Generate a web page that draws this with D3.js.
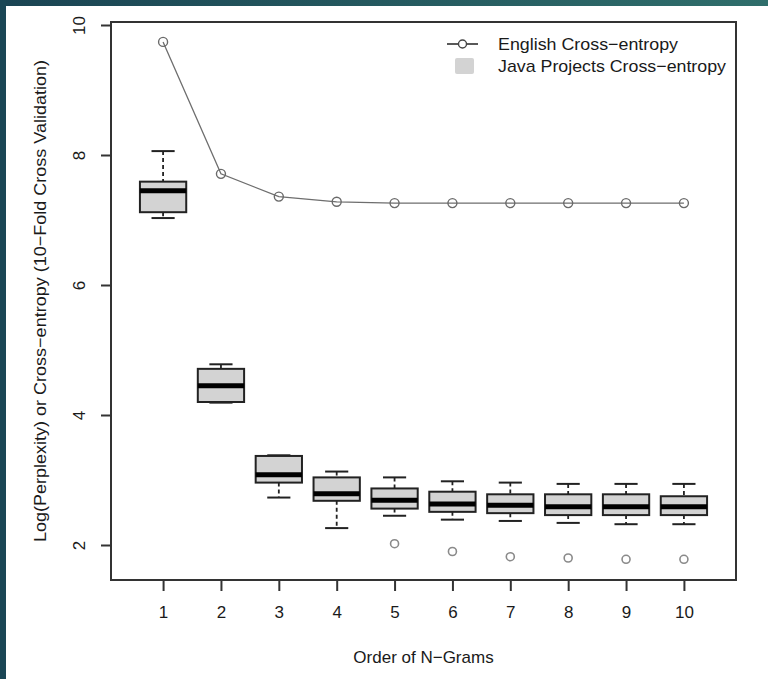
<!DOCTYPE html>
<html>
<head>
<meta charset="utf-8">
<script src="https://cdn.jsdelivr.net/npm/d3@7.9.0/dist/d3.min.js"></script>
<style>
  html, body { margin: 0; padding: 0; }
  body { width: 768px; height: 679px; background: #1c4b58; overflow: hidden; }
  svg { display: block; }
  text { font-family: "Liberation Sans", Arial, sans-serif; fill: #1a1a1a; }
</style>
</head>
<body>
<svg id="chart" width="768" height="679"></svg>
<script>
// Order of the n-gram model (x categories)
const orders = [1, 2, 3, 4, 5, 6, 7, 8, 9, 10];

// English cross-entropy (line with open circles)
const englishCE = [9.74, 7.71, 7.36, 7.28, 7.26, 7.26, 7.26, 7.26, 7.26, 7.26];

// Java projects cross-entropy, boxplot stats per order
const whiskerHigh = [8.06, 4.78, 3.38, 3.13, 3.04, 2.98, 2.96, 2.94, 2.94, 2.94];
const q3          = [7.59, 4.71, 3.37, 3.04, 2.87, 2.82, 2.78, 2.78, 2.78, 2.75];
const medians     = [7.45, 4.45, 3.08, 2.79, 2.69, 2.63, 2.61, 2.59, 2.59, 2.59];
const q1          = [7.12, 4.20, 2.96, 2.68, 2.56, 2.51, 2.49, 2.46, 2.46, 2.46];
const whiskerLow  = [7.03, 4.19, 2.73, 2.26, 2.45, 2.39, 2.37, 2.34, 2.32, 2.32];
const outliers    = [null, null, null, null, 2.02, 1.90, 1.82, 1.80, 1.78, 1.78];

const yTicks = [2, 4, 6, 8, 10];
const legendLabels = ['English Cross\u2212entropy', 'Java Projects Cross\u2212entropy'];
const xTitle = 'Order of N\u2212Grams';
const yTitle = 'Log(Perplexity) or Cross\u2212entropy (10\u2212Fold Cross Validation)';

const boxes = orders.map((o, i) => ({
  order: o, lo: whiskerLow[i], q1: q1[i], med: medians[i], q3: q3[i], hi: whiskerHigh[i], out: outliers[i]
}));

const svg = d3.select('#chart');

// dark strip along the top goes a bit greener to the right
const grad = svg.append('defs').append('linearGradient')
  .attr('id', 'strip').attr('x1', 0).attr('x2', 1).attr('y1', 0).attr('y2', 0);
grad.append('stop').attr('offset', 0).attr('stop-color', '#1a4453');
grad.append('stop').attr('offset', 1).attr('stop-color', '#2f6e6b');
svg.append('rect').attr('width', 768).attr('height', 679).attr('fill', 'url(#strip)');
svg.append('rect').attr('width', 6).attr('height', 679).attr('fill', '#1a4655');

// white page
svg.append('rect')
  .attr('x', 6).attr('y', 6)
  .attr('width', 768).attr('height', 679)
  .attr('fill', '#fff');

const plot = {left: 111, right: 736, top: 22, bottom: 580};

const x = d3.scaleLinear()
  .domain([0.1, 10.9])
  .range([plot.left, plot.right]);
const y = d3.scaleLinear()
  .domain([2 - 35 / 65, 10 + 3 / 65])
  .range([plot.bottom, plot.top]);

const boxW = x(0.8) - x(0);
const capW = x(0.4) - x(0);

// boxes
const g = svg.append('g');
const bx = g.selectAll('g.box').data(boxes).join('g').attr('class', 'box');

// dashed whiskers
bx.append('line')
  .attr('x1', d => x(d.order)).attr('x2', d => x(d.order))
  .attr('y1', d => y(d.hi)).attr('y2', d => y(d.q3))
  .attr('stroke', '#222').attr('stroke-width', 1.8).attr('stroke-dasharray', '4,3');
bx.append('line')
  .attr('x1', d => x(d.order)).attr('x2', d => x(d.order))
  .attr('y1', d => y(d.q1)).attr('y2', d => y(d.lo))
  .attr('stroke', '#222').attr('stroke-width', 1.8).attr('stroke-dasharray', '4,3');

// staples
bx.append('line')
  .attr('x1', d => x(d.order) - capW / 2).attr('x2', d => x(d.order) + capW / 2)
  .attr('y1', d => y(d.hi)).attr('y2', d => y(d.hi))
  .attr('stroke', '#222').attr('stroke-width', 2);
bx.append('line')
  .attr('x1', d => x(d.order) - capW / 2).attr('x2', d => x(d.order) + capW / 2)
  .attr('y1', d => y(d.lo)).attr('y2', d => y(d.lo))
  .attr('stroke', '#222').attr('stroke-width', 2);

bx.append('rect')
  .attr('x', d => x(d.order) - boxW / 2)
  .attr('y', d => y(d.q3))
  .attr('width', boxW)
  .attr('height', d => y(d.q1) - y(d.q3))
  .attr('fill', '#d3d3d3')
  .attr('stroke', '#222').attr('stroke-width', 2);

bx.append('line')
  .attr('x1', d => x(d.order) - boxW / 2).attr('x2', d => x(d.order) + boxW / 2)
  .attr('y1', d => y(d.med)).attr('y2', d => y(d.med))
  .attr('stroke', '#000').attr('stroke-width', 5);

// outliers
g.selectAll('circle.out').data(boxes.filter(d => d.out != null)).join('circle')
  .attr('class', 'out')
  .attr('cx', d => x(d.order)).attr('cy', d => y(d.out))
  .attr('r', 4)
  .attr('fill', 'none').attr('stroke', '#8a8a8a').attr('stroke-width', 1.6);

// English line
const line = d3.line()
  .x((d, i) => x(orders[i]))
  .y(d => y(d));
svg.append('path')
  .datum(englishCE)
  .attr('d', line)
  .attr('fill', 'none').attr('stroke', '#6e6e6e').attr('stroke-width', 1.3);
svg.selectAll('circle.eng').data(englishCE).join('circle')
  .attr('class', 'eng')
  .attr('cx', (d, i) => x(orders[i])).attr('cy', d => y(d))
  .attr('r', 4.5)
  .attr('fill', 'none').attr('stroke', '#6a6a6a').attr('stroke-width', 1.4);

// frame
svg.append('rect')
  .attr('x', plot.left).attr('y', plot.top)
  .attr('width', plot.right - plot.left).attr('height', plot.bottom - plot.top)
  .attr('fill', 'none').attr('stroke', '#333').attr('stroke-width', 2);

// axes
const xAxis = svg.append('g')
  .attr('transform', `translate(0,${plot.bottom})`)
  .call(d3.axisBottom(x).tickValues(orders).tickSize(11).tickPadding(15).tickFormat(d3.format('d')));
xAxis.select('.domain').remove();
xAxis.selectAll('.tick line').attr('stroke', '#333').attr('stroke-width', 2);
xAxis.selectAll('.tick text').attr('font-size', 17).attr('fill', '#1a1a1a')
  .attr('font-family', '"Liberation Sans", Arial, sans-serif');

const yAxis = svg.append('g')
  .attr('transform', `translate(${plot.left},0)`)
  .call(d3.axisLeft(y).tickValues(yTicks).tickSize(10).tickFormat(d3.format('d')));
yAxis.select('.domain').remove();
yAxis.selectAll('.tick line').attr('stroke', '#333').attr('stroke-width', 2);
yAxis.selectAll('.tick text')
  .attr('x', null).attr('dy', '0.35em')
  .attr('text-anchor', 'middle')
  .attr('transform', 'translate(-32,0) rotate(-90)')
  .attr('font-size', 17).attr('fill', '#1a1a1a')
  .attr('font-family', '"Liberation Sans", Arial, sans-serif');

// titles
svg.append('text')
  .attr('x', (plot.left + plot.right) / 2).attr('y', 663)
  .attr('text-anchor', 'middle').attr('font-size', 17)
  .text(xTitle);
svg.append('text')
  .attr('transform', `translate(46,${(plot.top + plot.bottom) / 2}) rotate(-90)`)
  .attr('text-anchor', 'middle').attr('font-size', 17)
  .attr('textLength', 482).attr('lengthAdjust', 'spacingAndGlyphs')
  .text(yTitle);

// legend
const lg = svg.append('g');
lg.append('line').attr('x1', 447).attr('x2', 478).attr('y1', 44).attr('y2', 44)
  .attr('stroke', '#222').attr('stroke-width', 1.5);
lg.append('circle').attr('cx', 462.5).attr('cy', 44).attr('r', 4)
  .attr('fill', '#fff').attr('stroke', '#444').attr('stroke-width', 1.4);
lg.append('rect').attr('x', 455).attr('y', 58).attr('width', 19).attr('height', 16).attr('rx', 2)
  .attr('fill', '#d3d3d3');
lg.selectAll('text').data(legendLabels).join('text')
  .attr('x', 498).attr('y', (d, i) => 44 + i * 22).attr('dy', '0.35em')
  .attr('font-size', 17)
  .attr('textLength', (d, i) => i === 0 ? 180 : 228).attr('lengthAdjust', 'spacingAndGlyphs')
  .text(d => d);
</script>
</body>
</html>
